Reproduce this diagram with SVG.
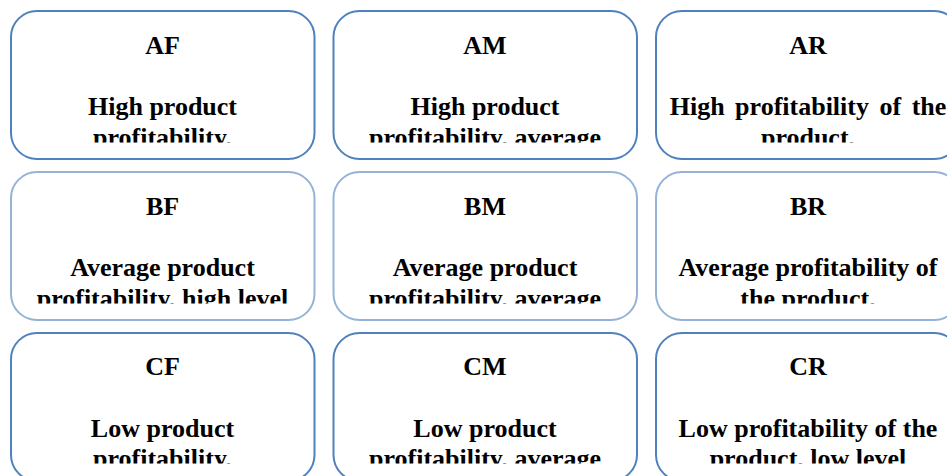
<svg xmlns="http://www.w3.org/2000/svg" width="947" height="476" viewBox="0 0 947 476">
<style>
.box{fill:#ffffff;stroke-width:2}
.dark{stroke:#4f81bd}
.light{stroke:#95b3d7}
text{font-family:"Liberation Serif","Times New Roman",serif;font-weight:bold;font-size:26px;fill:#000;text-anchor:middle}
</style>
<defs>
<clipPath id="c1"><rect x="0" y="0" width="947" height="142.5"/></clipPath>
<clipPath id="c2"><rect x="0" y="160" width="947" height="143.5"/></clipPath>
<clipPath id="c3"><rect x="0" y="321" width="947" height="142.5"/></clipPath>
</defs>
<rect width="947" height="476" fill="#ffffff"/>
<g id="AF">
<rect class="box dark" x="11" y="11" width="303.5" height="148" rx="26"/>
<g clip-path="url(#c1)"><text x="162.5" y="54">AF</text><text x="162.5" y="114.5">High product</text><text x="162.5" y="145.5">profitability,</text></g>
</g>
<g id="AM">
<rect class="box dark" x="333.5" y="11" width="303.5" height="148" rx="26"/>
<g clip-path="url(#c1)"><text x="485" y="54">AM</text><text x="485" y="114.5">High product</text><text x="485" y="145.5">profitability, average</text></g>
</g>
<g id="AR">
<rect class="box dark" x="656" y="11" width="304" height="148" rx="26"/>
<g clip-path="url(#c1)"><text x="808" y="54">AR</text><text x="808" y="114.5" word-spacing="4">High profitability of the</text><text x="808" y="145.5">product,</text></g>
</g>
<g id="BF">
<rect class="box light" x="11" y="172" width="303.5" height="148" rx="26"/>
<g clip-path="url(#c2)"><text x="162.5" y="215">BF</text><text x="162.5" y="276">Average product</text><text x="162.5" y="306.5">profitability, high level</text></g>
</g>
<g id="BM">
<rect class="box light" x="333.5" y="172" width="303.5" height="148" rx="26"/>
<g clip-path="url(#c2)"><text x="485" y="215">BM</text><text x="485" y="276">Average product</text><text x="485" y="306.5">profitability, average</text></g>
</g>
<g id="BR">
<rect class="box light" x="656" y="172" width="304" height="148" rx="26"/>
<g clip-path="url(#c2)"><text x="808" y="215">BR</text><text x="808" y="276">Average profitability of</text><text x="808" y="306.5">the product,</text></g>
</g>
<g id="CF">
<rect class="box dark" x="11" y="333" width="303.5" height="148" rx="26"/>
<g clip-path="url(#c3)"><text x="162.5" y="374.5">CF</text><text x="162.5" y="437">Low product</text><text x="162.5" y="467">profitability,</text></g>
</g>
<g id="CM">
<rect class="box dark" x="333.5" y="333" width="303.5" height="148" rx="26"/>
<g clip-path="url(#c3)"><text x="485" y="374.5">CM</text><text x="485" y="437">Low product</text><text x="485" y="467">profitability, average</text></g>
</g>
<g id="CR">
<rect class="box dark" x="656" y="333" width="304" height="148" rx="26"/>
<g clip-path="url(#c3)"><text x="808" y="374.5">CR</text><text x="808" y="437">Low profitability of the</text><text x="808" y="467">product, low level</text></g>
</g>
<g id="connectors"></g>
</svg>
